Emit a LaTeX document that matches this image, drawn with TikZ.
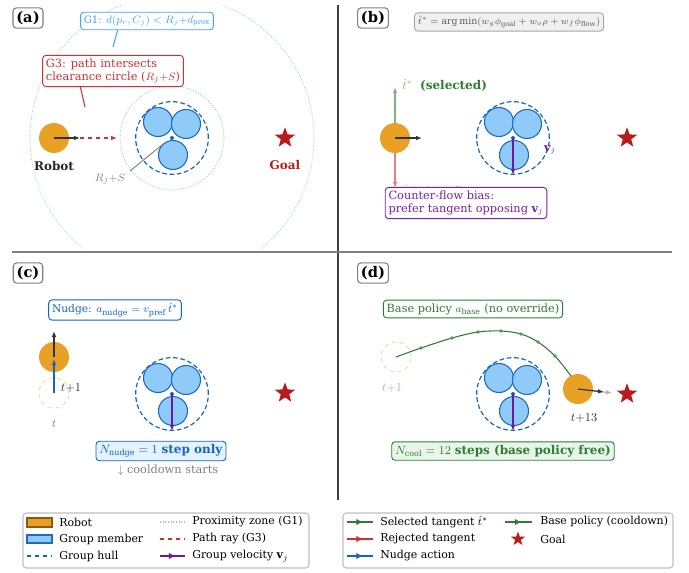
\documentclass[tikz,border=0pt]{standalone}
\usepackage{fontspec}
\setmainfont{DejaVu Serif}
\usetikzlibrary{arrows.meta,shapes.geometric,calc,positioning}

\definecolor{robotorange}{HTML}{E8A025}
\definecolor{robotedge}{HTML}{8A5A10}
\definecolor{memberfill}{HTML}{90CAF9}
\definecolor{memberedge}{HTML}{1E6CC0}
\definecolor{hullblue}{HTML}{1565C0}
\definecolor{proxblue}{HTML}{90C4F0}
\definecolor{rayred}{HTML}{D32F2F}
\definecolor{goalred}{HTML}{B71C1C}
\definecolor{tangreen}{HTML}{2E7D32}
\definecolor{velpurple}{HTML}{6A1B9A}
\definecolor{boxpurple}{HTML}{7B1FA2}
\definecolor{gonebluee}{HTML}{42A5F5}
\definecolor{nudgefill}{HTML}{E3F2FD}
\definecolor{coolfill}{HTML}{E8F5E9}

\tikzset{
  robot/.style={circle, fill=robotorange, inner sep=0pt, minimum size=22.5pt},
  ghost/.style={circle, draw=robotorange!45, dashed, line width=0.7pt, inner sep=0pt, minimum size=22.5pt},
  member/.style={circle, draw=memberedge, fill=memberfill, line width=0.8pt, inner sep=0pt, minimum size=21.75pt},
  hull/.style={circle, draw=hullblue, dash pattern=on 3.5pt off 2pt, line width=0.9pt, inner sep=0pt, minimum size=54.5pt},
  goal/.style={star, star points=5, star point ratio=2.4, fill=goalred, inner sep=0pt, minimum size=16pt},
  panellabel/.style={draw=gray, rounded corners=2.5pt, line width=0.8pt, fill=white, font=\fontsize{11}{13}\bfseries, inner sep=2.5pt},
  annot/.style={rounded corners=2.5pt, line width=0.7pt, fill=white, align=left, inner sep=2.5pt, font=\fontsize{8.5}{9.6}\selectfont},
  prox/.style={proxblue, line width=0.6pt, dash pattern=on 0.8pt off 1.2pt},
  arr/.style={-{Latex[length=4.5pt,width=3.5pt]}},
  velarrow/.style={velpurple, line width=1pt, arr},
  legtext/.style={anchor=west, font=\fontsize{8.2}{10}\selectfont, inner sep=0pt}
}

% group of three walkers with hull
\def\drawgroup(#1)[#2]{
  \node[member] (#2m1) at ($(#1)+(-14,-16)$) {};
  \node[member] (#2m2) at ($(#1)+(14,-14)$) {};
  \node[member] (#2m3) at ($(#1)+(1,17)$) {};
  \node[hull] (#2hull) at (#1) {};
  \fill[hullblue] (#1) circle (2);
  \coordinate (#2vel) at ($(#1)+(0,37)$);
}
\def\legline#1#2#3#4{
  \draw[#1, line width=1pt] (#2,#4) -- (#3,#4);
  \draw[#1, line width=1pt, -{Latex[length=5pt,width=5pt]}] (#2,#4) -- ({(#2+#3)/2+3},#4);
}

\begin{document}
\begin{tikzpicture}[x=0.75pt, y=-0.75pt]
\useasboundingbox (0,0) rectangle (689,572);

%%%%% (a) triggers %%%%%
\coordinate (gA) at (172,138);
\begin{scope}
  \clip (10,5) rectangle (330,248);
  \draw[prox, line width=0.5pt] (gA) circle (142);
\end{scope}
\draw[prox] (gA) circle (52);
\drawgroup(gA)[a]
\node[robot] (robA) at (54,138) {};
\node[font=\fontsize{9}{11}\bfseries, text=black!85] (robAlbl) at (54,166) {Robot};
\coordinate (rayA) at (80,138);
\coordinate (rayAend) at (117,138);
\draw[black!80, line width=0.9pt, arr] (robA.center) -- (rayA);
\draw[rayred, dashed, line width=0.9pt, arr] (rayA) -- (rayAend);
\node[goal] (goalA) at (285,138) {};
\node[font=\fontsize{9}{11}\bfseries, text=goalred] (goalAlbl) at (285,165) {Goal};
\coordinate (rsA) at (130,171);
\coordinate (rsB) at (162,145);
\draw[gray, line width=0.7pt] (rsA) -- (rsB);
\node[text=gray, font=\fontsize{8.5}{10}\selectfont] (rsAlbl) at (110,179) {$R_j{+}S$};

\node[annot, draw=gonebluee, text=gonebluee, font=\fontsize{7.6}{9}\selectfont] (g1box) at (147,21) {G1: $d(p_r,C_j)<R_j{+}d_{\mathrm{prox}}$};
\coordinate (g1tip) at (113,47);
\draw[gonebluee, line width=0.8pt] (g1tip) -- ($(g1box.south west)!0.28!(g1box.south east)$);
\node[annot, draw=rayred, text=rayred] (g3box) at (113,71) {G3: path intersects\\clearance circle ($R_j{+}S$)};
\coordinate (g3tip) at (85,107);
\draw[rayred, line width=0.8pt] (g3tip) -- ($(g3box.south west)!0.27!(g3box.south east)$);
\node[panellabel] (labA) at (28,18) {(a)};

%%%%% (b) tangent choice %%%%%
\coordinate (gB) at (513,138);
\drawgroup(gB)[b]
\draw[velarrow] (gB) -- (bvel);
\node[text=velpurple, font=\fontsize{8.5}{10}\selectfont] (velBlbl) at (550,150) {$\mathbf{v}_j$};
\coordinate (selB) at (395,87);
\coordinate (rejB) at (395,188);
\draw[tangreen!60, line width=1pt, arr] (395,138) -- (selB);
\draw[rayred!60, line width=1pt, arr] (395,138) -- (rejB);
\node[robot] (robB) at (395,138) {};
\draw[black!80, line width=0.9pt, arr] (robB.center) -- (422,138);
\node[anchor=west, text=tangreen, font=\fontsize{9}{10}\selectfont, inner sep=0pt] (selBlbl) at (402,85) {$\color{tangreen!60}\hat t^*$\ \ \textbf{(selected)}};
\node[anchor=west, text=rayred!60, font=\fontsize{8}{9.5}\selectfont, inner sep=0pt] (rejBlbl) at (403,191) {$\hat t$ (rejected)};
\node[goal] (goalB) at (627,138) {};
\node[annot, draw=boxpurple, text=boxpurple] (flowbox) at (466,203) {Counter-flow bias:\\prefer tangent opposing $\mathbf{v}_j$};
\node[annot, draw=gray!70, fill=gray!12, text=black!65, font=\fontsize{7}{8.5}\selectfont] (formulaB) at (509,22) {$\hat t^* = \arg\min(w_g\phi_{\mathrm{goal}} + w_o\rho + w_f\phi_{\mathrm{flow}})$};
\node[panellabel] (labB) at (373,18) {(b)};

%%%%% (c) nudge %%%%%
\coordinate (gC) at (172,394);
\drawgroup(gC)[c]
\draw[velarrow] (gC) -- (cvel);
\node[ghost] (ghC) at (54,393) {};
\node[robot] (robC) at (54,357) {};
\coordinate (nudgeC) at (54,359);
\coordinate (headC) at (54,331);
\draw[hullblue, line width=1.2pt, arr] (ghC.center) -- (nudgeC);
\draw[black!80, line width=0.9pt, arr] (robC.center) -- (headC);
\node[font=\fontsize{9.5}{11}\selectfont, text=black!80] (tpC) at (71,388) {$t{+}1$};
\node[font=\fontsize{9.5}{11}\selectfont, text=gray] (tC) at (54,424) {$t$};
\node[goal] (goalC) at (285,393) {};
\node[annot, draw=hullblue, text=hullblue, font=\fontsize{8}{9.5}\selectfont] (nudgebox) at (115,310) {Nudge: $a_{\mathrm{nudge}}=v_{\mathrm{pref}}\,\hat t^*$};
\node[annot, draw=hullblue, fill=nudgefill, text=hullblue, font=\fontsize{9}{11}\selectfont] (nnudgebox) at (161,451) {$N_{\mathrm{nudge}}=1$ \textbf{step only}};
\node[text=gray, font=\fontsize{8.5}{10}\selectfont, inner sep=0pt] (coolC) at (168,470) {$\downarrow$ cooldown starts};
\node[panellabel] (labC) at (28,273) {(c)};

%%%%% (d) cooldown %%%%%
\coordinate (gD) at (513,394);
\drawgroup(gD)[d]
\draw[velarrow] (gD) -- (dvel);
\node[ghost] (ghD) at (396,357) {};
\node[robot] (robD) at (578,389) {};
\draw[tangreen, line width=0.8pt] plot[smooth, tension=0.55] coordinates {(ghD.center) (421,348) (452,338) (478,332) (501,331) (521,334) (538,342) (555,356) (571,376)};
\foreach \p in {(421,348),(452,338),(478,332),(501,331),(521,334),(538,342),(555,356)}
  \fill[tangreen!80] \p circle (1.8);
\coordinate (headD) at (604,392);
\coordinate (tailD) at (612,393);
\draw[gray!60, line width=0.8pt, arr] (robD.center) -- (tailD);
\draw[black!80, line width=0.9pt, arr] (robD.center) -- (headD);
\node[font=\fontsize{9.5}{11}\selectfont, text=gray!60] (tpD) at (392,388) {$t{+}1$};
\node[font=\fontsize{9.5}{11}\selectfont, text=black!80] (tqD) at (584,418) {$t{+}13$};
\node[goal] (goalD) at (627,394) {};
\node[annot, draw=tangreen, text=tangreen] (basebox) at (473,309) {Base policy $a_{\mathrm{base}}$ (no override)};
\node[annot, draw=tangreen, fill=coolfill, text=tangreen, font=\fontsize{9}{11}\selectfont] (ncoolbox) at (503,451) {$N_{\mathrm{cool}}=12$ \textbf{steps (base policy free)}};
\node[panellabel] (labD) at (373,273) {(d)};

%%%%% dividers %%%%%
\draw[black!75, line width=1pt] (338,5) -- (338,500);
\draw[gray, line width=1.3pt] (12,252) -- (672,252);

%%%%% legends %%%%%
\draw[gray!50, rounded corners=2.5pt, line width=0.8pt, fill=white] (23,513) rectangle (309,568);
\draw[robotedge, fill=robotorange, line width=0.8pt] (27,518) rectangle (52,527);
\node[legtext] (lrob) at (59,522) {Robot};
\draw[memberedge, fill=memberfill, line width=0.8pt] (27,535) rectangle (52,543);
\node[legtext] (lmem) at (59,539) {Group member};
\draw[hullblue, dashed, line width=1pt] (27,556) -- (52,556);
\node[legtext] (lhull) at (59,556) {Group hull};
\draw[prox, line width=0.8pt] (160,522) -- (185,522);
\node[legtext] (lprox) at (192,522) {Proximity zone (G1)};
\draw[rayred, dashed, line width=1pt] (160,539) -- (185,539);
\node[legtext] (lray) at (192,539) {Path ray (G3)};
\legline{velpurple}{160}{185}{556}
\node[legtext] (lvel) at (192,556) {Group velocity $\mathbf{v}_j$};

\draw[gray!50, rounded corners=2.5pt, line width=0.8pt, fill=white] (343,513) rectangle (673,568);
\legline{tangreen}{347}{373}{522}
\node[legtext] (lsel) at (380,522) {Selected tangent $\hat t^*$};
\legline{rayred}{347}{373}{539}
\node[legtext] (lrej) at (380,539) {Rejected tangent};
\legline{hullblue}{347}{373}{556}
\node[legtext] (lnud) at (380,556) {Nudge action};
\legline{tangreen}{505}{532}{522}
\node[legtext] (lbase) at (540,522) {Base policy (cooldown)};
\node[goal, minimum size=11pt] (lgoalstar) at (518,539) {};
\node[legtext] (lgoal) at (540,539) {Goal};
\end{tikzpicture}
\end{document}
